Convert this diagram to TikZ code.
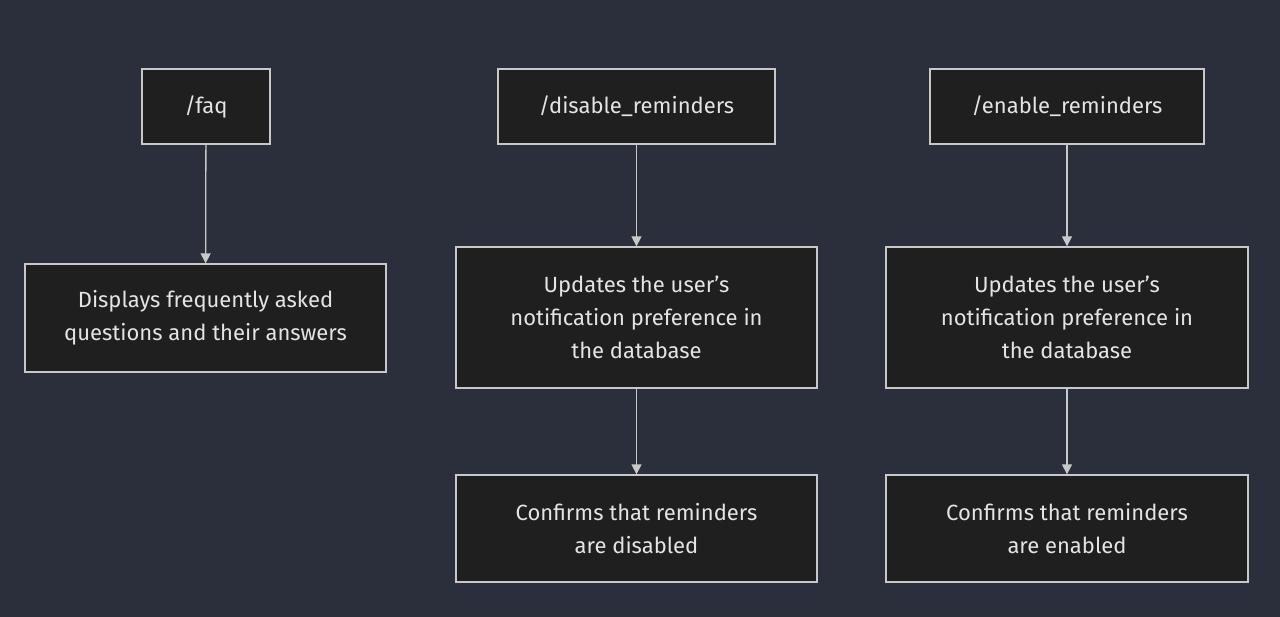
\documentclass[tikz,border=0pt]{standalone}
\usepackage{fontspec}
\setmainfont{Fira Sans}
\usetikzlibrary{arrows.meta}
\definecolor{bgc}{RGB}{43,47,59}
\definecolor{boxfill}{RGB}{31,31,31}
\definecolor{boxline}{RGB}{200,200,200}
\definecolor{txt}{RGB}{228,228,228}
\tikzset{
  box/.style={draw=boxline, fill=boxfill, line width=1.3pt, text=txt, align=center, inner sep=0pt,
    font=\fontsize{22}{33}\selectfont},
  conn/.style={draw=boxline, line width=1.3pt, -{Triangle[width=10pt,length=10pt]}}
}
\begin{document}
\begin{tikzpicture}[x=1pt,y=-1pt]
\fill[bgc] (0,0) rectangle (1280,617);
\useasboundingbox (0,0) rectangle (1280,617);
\node[box, minimum width=128pt, minimum height=75pt] (faq) at (206,106.5) {/faq};
\node[box, minimum width=361pt, minimum height=108pt] (faqd) at (205.5,318) {Displays frequently asked\\questions and their answers};
\node[box, minimum width=277pt, minimum height=75pt] (dis) at (636.5,106.5) {/disable\_reminders};
\node[box, minimum width=361pt, minimum height=141pt] (disu) at (636.5,317.5) {Updates the user’s\\notification preference in\\the database};
\node[box, minimum width=361pt, minimum height=107pt] (disc) at (636.5,528.5) {Confirms that reminders\\are disabled};
\node[box, minimum width=274pt, minimum height=75pt] (en) at (1067,106.5) {/enable\_reminders};
\node[box, minimum width=362pt, minimum height=141pt] (enu) at (1067,317.5) {Updates the user’s\\notification preference in\\the database};
\node[box, minimum width=362pt, minimum height=107pt] (enc) at (1067,528.5) {Confirms that reminders\\are enabled};
\draw[conn] (faq) -- (faqd);
\draw[conn] (dis) -- (disu);
\draw[conn] (disu) -- (disc);
\draw[conn] (en) -- (enu);
\draw[conn] (enu) -- (enc);
\end{tikzpicture}
\end{document}
